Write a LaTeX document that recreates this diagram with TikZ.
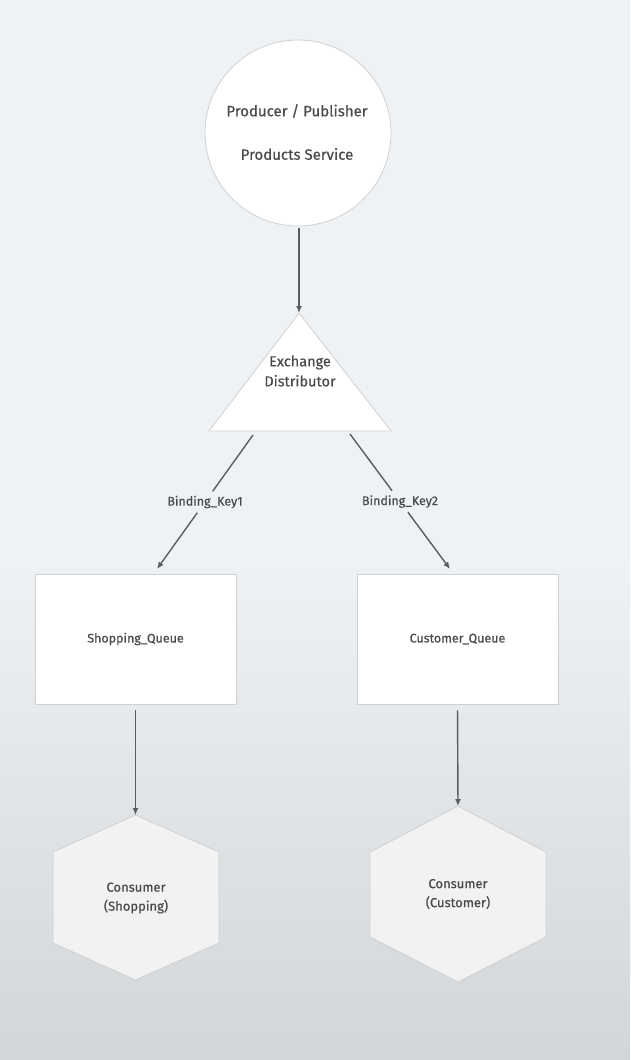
\documentclass[tikz,border=0pt]{standalone}
\usepackage{fontspec}
\setmainfont{Fira Sans}[FakeBold=0.5]
\usetikzlibrary{arrows.meta}
\definecolor{bgtop}{HTML}{EFF2F4}
\definecolor{bgmid}{HTML}{E9ECEE}
\definecolor{bgbot}{HTML}{D2D6D8}
\definecolor{txtc}{HTML}{4A4A4A}
\definecolor{linec}{HTML}{5C5C5C}
\definecolor{edgec}{HTML}{D0D0D0}
\definecolor{hexfill}{HTML}{F2F2F2}
\begin{document}
\begin{tikzpicture}[x=1pt,y=-1pt,
  txt/.style={text=txtc, inner sep=0pt, align=center},
  arr/.style={draw=linec, line width=1.4pt, -{Latex[length=7pt,width=6pt]}},
  plainline/.style={draw=linec, line width=1.4pt},
  shapeline/.style={draw=edgec, line width=0.8pt, fill=white},
  box/.style={shapeline, rectangle, text=txtc, font=\fontsize{12.5}{14}\selectfont},
  lab/.style={text=txtc, inner sep=2pt, minimum height=21pt, font=\fontsize{12.5}{14}\selectfont},
  hexshape/.style={draw=edgec, line width=0.8pt, fill=hexfill}]
\useasboundingbox (0,0) rectangle (630,1060);
\fill[bgtop] (0,0) rectangle (630,560);
\shade[top color=bgtop, middle color=bgmid, bottom color=bgbot] (0,559) rectangle (630,1060);

% producer circle
\node[shapeline, circle, minimum size=186pt, inner sep=0pt] (prod) at (298,133) {};
\node[txt, font=\fontsize{15}{17}\selectfont] (prodA) at (297,111) {Producer / Publisher};
\node[txt, font=\fontsize{15}{17}\selectfont] (prodB) at (297,154) {Products Service};

% exchange triangle
\coordinate (exA) at (299,313);
\coordinate (exL) at (209,431);
\coordinate (exR) at (391,431);
\draw[shapeline] (exA) -- (exL) -- (exR) -- cycle;
\node[txt, font=\fontsize{14.5}{20}\selectfont] (exT) at (300,371) {Exchange\\Distributor};

\coordinate (prodOut) at (299,228);
\draw[arr] (prodOut) -- (exA);

% queues
\node[box, minimum width=201pt, minimum height=130pt] (q1) at (135.5,639) {Shopping\_Queue};
\node[box, minimum width=201pt, minimum height=130pt] (q2) at (457.5,639) {Customer\_Queue};

% binding edges
\coordinate (s1) at (253,435);
\coordinate (e1) at (157,569);
\coordinate (s2) at (350,434);
\coordinate (e2) at (450,569);
\path (s1) -- (e1) node[lab, pos=0.5] (k1) {Binding\_Key1};
\path (s2) -- (e2) node[lab, pos=0.5] (k2) {Binding\_Key2};
\draw[plainline] (s1) -- (k1);
\draw[arr] (k1) -- (e1);
\draw[plainline] (s2) -- (k2);
\draw[arr] (k2) -- (e2);

% consumers
\coordinate (c1top) at (135.5,815);
\draw[hexshape] (c1top) -- (53,852) -- (53,943) -- (135.5,980) -- (219,943) -- (219,852) -- cycle;
\node[txt, font=\fontsize{13}{19}\selectfont] (c1) at (136,898) {Consumer\\(Shopping)};

\coordinate (c2top) at (458,806);
\draw[hexshape] (c2top) -- (370,852) -- (370,937) -- (458,982) -- (546,937) -- (546,852) -- cycle;
\node[txt, font=\fontsize{13}{19}\selectfont] (c2) at (458,894) {Consumer\\(Customer)};

\draw[arr, shorten <=6pt] (q1.south) -- (c1top);
\draw[arr, shorten <=6pt] (q2.south) -- (c2top);
\end{tikzpicture}
\end{document}
